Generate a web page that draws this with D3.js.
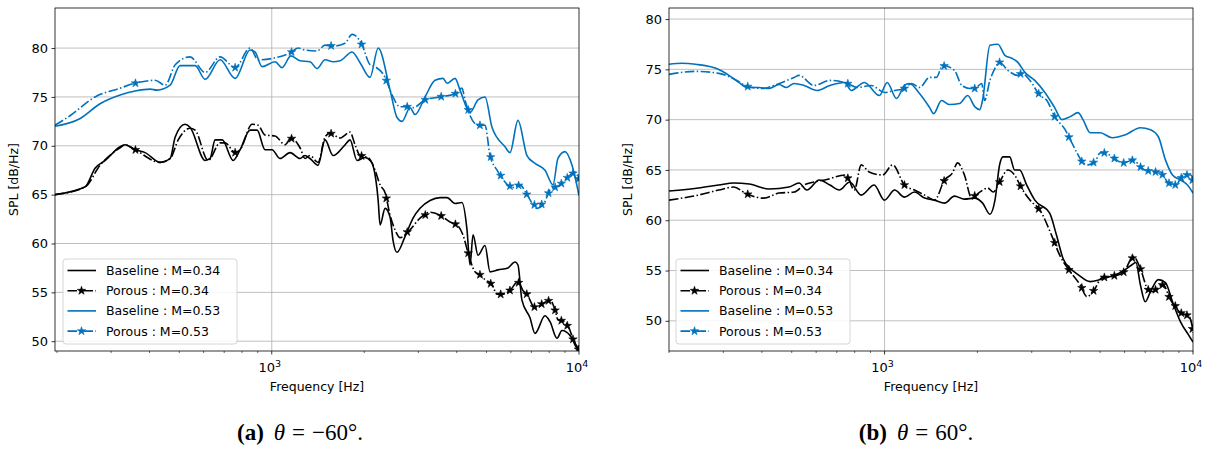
<!DOCTYPE html>
<html>
<head>
<meta charset="utf-8">
<script src="https://cdn.jsdelivr.net/npm/d3@7"></script>
<style>
  html, body { margin: 0; padding: 0; background: #fff; }
  svg { display: block; }
</style>
</head>
<body>
<svg id="chart" width="1210" height="450"></svg>
<script>
// ---------------- DATA ----------------
// Each series: [frequency in Hz, SPL in dB/Hz]
// Panel (a): theta = -60 deg
const aBase034 = [[197,65.0],[247,65.8],[266,67.7],[287,68.5],[321,69.9],[333,70.1],[359,69.6],[387,69.3],[433,68.3],[467,68.7],[485,70.9],[522,72.2],[542,71.9],[607,68.5],[630,68.7],[654,70.6],[690,70.6],[749,68.5],[789,69.6],[850,71.6],[896,71.6],[951,69.6],[1002,69.6],[1064,68.7],[1147,69.3],[1236,68.7],[1283,69.0],[1332,68.7],[1414,68.0],[1491,70.6],[1583,69.0],[1732,70.1],[1798,70.6],[1894,68.5],[2012,68.8],[2089,68.5],[2135,68.0],[2220,64.4],[2252,61.9],[2338,63.6],[2427,62.7],[2482,60.3],[2556,59.1],[2715,60.7],[2883,62.6],[3038,63.6],[3275,64.4],[3530,64.7],[3720,64.7],[3949,64.1],[4160,64.2],[4320,61.4],[4419,57.8],[4520,60.9],[4690,58.8],[4944,59.8],[5133,57.1],[5450,57.3],[5870,57.5],[6190,58.1],[6330,57.8],[6520,54.2],[6927,52.4],[7191,50.8],[7751,52.6],[8047,52.0],[8480,50.3],[8800,51.1],[9348,50.6],[9705,49.8],[10000,49.1]];
const aPor034 = [[197,65.0],[247,65.8],[276,68.0],[321,69.8],[333,70.1],[359,69.6],[433,68.3],[467,68.7],[496,70.6],[542,71.8],[563,71.6],[621,68.5],[679,70.3],[705,70.3],[760,69.3],[789,69.6],[863,72.2],[903,72.1],[951,71.1],[1025,71.0],[1105,70.1],[1155,70.8],[1236,69.8],[1283,68.7],[1332,69.0],[1414,68.3],[1491,70.9],[1548,71.3],[1668,70.8],[1798,71.4],[1867,70.1],[1938,69.0],[2058,68.8],[2169,67.5],[2252,66.0],[2338,65.2],[2427,62.9],[2519,61.4],[2616,60.6],[2819,61.4],[3038,62.6],[3275,63.2],[3530,62.9],[3804,62.2],[4010,61.9],[4190,60.9],[4350,59.1],[4587,57.1],[4762,56.8],[4944,56.3],[5210,55.8],[5410,54.8],[5610,54.8],[5962,55.2],[6330,56.1],[6570,55.2],[6770,54.8],[7191,53.4],[7751,54.0],[8047,54.2],[8354,53.2],[8540,52.2],[9004,52.0],[9348,51.1],[9705,49.6],[10000,49.1]];
const aBase053 = [[197,72.0],[238,72.8],[276,74.3],[321,75.2],[359,75.6],[402,75.8],[423,75.7],[467,76.2],[503,78.2],[563,78.2],[607,76.8],[679,78.8],[760,76.9],[850,79.8],[882,79.6],[930,78.1],[1025,78.6],[1080,78.0],[1155,79.2],[1236,78.7],[1332,78.6],[1404,77.9],[1491,78.8],[1583,78.6],[1668,78.7],[1826,79.6],[1938,78.5],[2089,77.0],[2220,80.0],[2427,75.7],[2556,72.9],[2655,72.5],[2819,73.9],[2927,73.2],[3154,75.0],[3400,76.7],[3610,76.9],[3720,76.4],[3949,76.9],[4100,75.7],[4419,73.4],[4690,74.7],[4944,75.0],[5210,71.9],[5743,69.9],[5962,69.3],[6330,72.6],[6770,69.0],[7191,68.2],[7751,67.5],[8230,66.0],[8540,68.7],[9004,69.4],[9490,68.0],[10000,64.9]];
const aPor053 = [[197,72.1],[221,73.1],[266,75.0],[321,75.9],[359,76.4],[417,76.7],[450,76.2],[485,78.3],[542,79.1],[607,77.5],[679,79.1],[760,78.0],[850,80.0],[903,78.8],[1025,79.0],[1147,79.5],[1218,80.0],[1283,79.8],[1404,79.7],[1491,80.3],[1583,80.2],[1732,80.5],[1826,81.4],[1867,81.3],[1968,80.3],[2089,78.3],[2169,78.1],[2338,77.0],[2463,75.2],[2616,74.0],[2757,74.0],[2883,73.9],[3154,74.7],[3530,75.0],[3949,75.3],[4160,75.9],[4256,74.7],[4419,73.1],[4690,72.1],[4944,72.1],[5133,69.0],[5410,67.5],[5743,66.3],[6050,65.7],[6427,66.0],[6770,65.0],[7300,63.6],[7751,64.3],[8047,65.5],[8672,66.0],[9348,67.0],[9705,67.3],[10000,66.5]];

// Panel (b): theta = 60 deg
const bBase034 = [[200,62.9],[249,63.2],[290,63.5],[324,63.7],[364,63.6],[422,63.1],[490,63.3],[528,63.7],[560,63.0],[614,64.0],[665,63.5],[713,63.0],[771,63.8],[840,62.5],[925,63.5],[999,62.0],[1078,63.0],[1160,62.3],[1250,62.8],[1350,62.2],[1452,62.0],[1565,61.7],[1685,62.4],[1815,62.1],[1960,62.2],[2080,61.7],[2195,60.6],[2280,62.0],[2360,65.5],[2420,66.3],[2545,66.3],[2640,65.0],[2740,65.0],[2890,63.5],[3070,62.0],[3430,60.7],[3610,58.5],[3790,56.2],[4000,55.2],[4240,54.6],[4640,53.9],[5000,54.1],[5390,54.4],[5830,54.8],[6290,55.5],[6530,55.8],[6750,53.6],[7000,51.9],[7280,52.9],[7720,54.1],[8140,53.8],[8580,51.9],[9110,49.9],[9670,48.6],[10000,47.9]];
const bPor034 = [[200,62.0],[249,62.5],[290,63.0],[324,63.3],[358,62.6],[406,62.2],[455,62.7],[509,62.8],[548,63.5],[590,63.8],[639,64.0],[750,64.5],[798,63.0],[840,65.5],[891,64.8],[985,64.5],[1062,65.5],[1160,63.5],[1250,63.0],[1350,62.5],[1452,62.0],[1565,64.0],[1660,64.7],[1725,65.7],[1815,64.5],[1915,62.2],[2035,62.8],[2160,63.2],[2250,62.8],[2360,63.8],[2510,65.0],[2640,64.5],[2780,63.2],[2960,62.0],[3190,61.0],[3480,58.5],[3700,56.5],[3930,55.2],[4300,53.6],[4530,52.4],[4740,52.9],[5080,54.3],[5470,54.4],[5950,54.8],[6410,56.4],[6750,55.2],[7150,53.1],[7400,52.9],[7990,53.6],[8450,52.1],[9110,50.8],[9670,50.5],[9920,49.6],[10000,48.8]];
const bBase053 = [[200,75.5],[220,75.6],[244,75.5],[284,75.1],[313,74.4],[337,73.7],[358,73.2],[391,73.2],[422,73.1],[455,73.5],[480,73.2],[509,73.6],[548,73.4],[604,72.9],[665,73.4],[741,73.7],[780,72.9],[860,73.7],[962,72.4],[1020,73.7],[1093,72.1],[1160,73.4],[1203,73.6],[1298,72.6],[1400,71.2],[1442,70.6],[1530,71.9],[1625,71.5],[1750,71.6],[1860,72.4],[1960,71.3],[2035,71.0],[2080,72.0],[2195,77.4],[2330,77.5],[2455,76.4],[2586,76.1],[2705,75.7],[2850,74.7],[3070,73.9],[3310,72.7],[3560,71.2],[3760,70.0],[4000,70.3],[4240,70.7],[4400,70.0],[4640,68.7],[5000,68.7],[5470,68.2],[6040,68.5],[6750,69.2],[7280,69.0],[7720,68.3],[8140,66.0],[8580,64.5],[9110,64.0],[9600,63.5],[10000,62.7]];
const bPor053 = [[200,74.5],[244,74.8],[290,74.6],[332,73.9],[358,73.3],[406,73.1],[438,73.4],[509,74.2],[528,74.4],[590,73.4],[665,73.9],[757,73.6],[816,73.2],[906,73.4],[999,72.7],[1078,72.9],[1160,73.1],[1222,73.6],[1298,73.2],[1400,74.2],[1474,74.2],[1542,75.4],[1685,74.9],[1780,73.4],[1890,73.1],[1960,73.1],[2065,73.6],[2110,71.9],[2195,73.9],[2280,75.1],[2360,75.7],[2510,74.9],[2705,74.4],[2780,74.6],[2960,73.9],[3190,72.4],[3360,71.9],[3560,70.3],[3850,69.0],[4000,68.0],[4240,66.5],[4370,65.8],[4570,65.5],[4810,65.8],[5000,66.7],[5190,66.7],[5510,66.2],[5950,65.7],[6410,66.0],[6750,65.3],[7280,64.8],[7840,64.8],[8320,63.7],[8790,63.5],[9310,64.5],[9850,64.5],[10000,63.8]];

const yTicks = [50, 55, 60, 65, 70, 75, 80];
const xMajorTicks = [1000, 10000];
const xMinorTicks = [200, 300, 400, 500, 600, 700, 800, 900, 2000, 3000, 4000, 5000, 6000, 7000, 8000, 9000];
const legendLabels = ["Baseline : M=0.34", "Porous : M=0.34", "Baseline : M=0.53", "Porous : M=0.53"];
const captions = [["(a)", "θ", "=", "−60°."], ["(b)", "θ", "=", "60°."]];
// porous-case star markers (every 400 Hz starting at 360 Hz)
const markerStart = 360, markerStep = 400;

// ---------------- DRAW ----------------
const BLACK = "#000000", BLUE = "#0072BD";
const svg = d3.select("#chart");
svg.append("rect").attr("width", 1210).attr("height", 450).attr("fill", "#fff");

const panels = [
  { left: 55, right: 579, top: 8, bottom: 351, xdom: [197, 10000], ydom: [49.0, 84.1],
    series: [aBase034, aPor034, aBase053, aPor053], capX: 300, legX: 63 },
  { left: 669, right: 1193, top: 8, bottom: 351, xdom: [200, 10000], ydom: [47.0, 81.1],
    series: [bBase034, bPor034, bBase053, bPor053], capX: 916, legX: 676 }
];
const styles = [
  { color: BLACK, dash: null, star: false },
  { color: BLACK, dash: "9.6,2.4,1.5,2.4", star: true },
  { color: BLUE, dash: null, star: false },
  { color: BLUE, dash: "9.6,2.4,1.5,2.4", star: true }
];

function interp(data, f) {
  for (let i = 0; i < data.length - 1; i++) {
    const a = data[i], b = data[i + 1];
    if (f >= a[0] && f <= b[0]) {
      const t = (Math.log(f) - Math.log(a[0])) / (Math.log(b[0]) - Math.log(a[0]));
      return a[1] + t * (b[1] - a[1]);
    }
  }
  return null;
}

const star = d3.symbol().type(d3.symbolStar).size(22);
const FONT = "'DejaVu Sans', sans-serif";

panels.forEach((p, pi) => {
  const x = d3.scaleLog().domain(p.xdom).range([p.left, p.right]);
  const y = d3.scaleLinear().domain(p.ydom).range([p.bottom, p.top]);
  const g = svg.append("g");

  const clipId = "clip" + pi;
  svg.append("clipPath").attr("id", clipId).append("rect")
    .attr("x", p.left).attr("y", p.top).attr("width", p.right - p.left).attr("height", p.bottom - p.top);

  // grid
  const grid = g.append("g").attr("stroke", "#b0b0b0").attr("stroke-width", 0.8);
  yTicks.forEach(t => grid.append("line").attr("x1", p.left).attr("x2", p.right)
    .attr("y1", y(t)).attr("y2", y(t)));
  xMajorTicks.filter(t => t < p.xdom[1]).forEach(t => grid.append("line")
    .attr("x1", x(t)).attr("x2", x(t)).attr("y1", p.top).attr("y2", p.bottom));

  // lines
  const line = d3.line().x(d => x(d[0])).y(d => y(d[1])).curve(d3.curveMonotoneX);
  const lg = g.append("g").attr("clip-path", `url(#${clipId})`);
  p.series.forEach((s, si) => {
    const st = styles[si];
    lg.append("path").datum(s).attr("d", line).attr("fill", "none")
      .attr("stroke", st.color).attr("stroke-width", 1.6)
      .attr("stroke-dasharray", st.dash).attr("stroke-linejoin", "round");
    if (st.star) {
      const marks = d3.range(markerStart, p.xdom[1] + 1, markerStep)
        .map(f => [f, interp(s, f)]).filter(d => d[1] !== null);
      lg.selectAll(null).data(marks).enter().append("path")
        .attr("d", star).attr("fill", st.color).attr("stroke", st.color).attr("stroke-width", 0.6)
        .attr("transform", d => `translate(${x(d[0])},${y(d[1])})`);
    }
  });

  // spines
  g.append("rect").attr("x", p.left).attr("y", p.top)
    .attr("width", p.right - p.left).attr("height", p.bottom - p.top)
    .attr("fill", "none").attr("stroke", "#000").attr("stroke-width", 0.8);

  // y axis
  const yAxis = d3.axisLeft(y).tickValues(yTicks).tickSize(3.5).tickPadding(3.5).tickFormat(d3.format("d"));
  const ya = g.append("g").attr("transform", `translate(${p.left},0)`).call(yAxis);
  ya.select(".domain").remove();
  ya.selectAll("line").attr("stroke-width", 0.8);
  ya.selectAll("text").attr("font-family", FONT).attr("font-size", 13).attr("fill", "#000");

  // x axis major ticks
  const xa = g.append("g").attr("transform", `translate(0,${p.bottom})`);
  xMajorTicks.forEach(t => {
    xa.append("line").attr("x1", x(t)).attr("x2", x(t)).attr("y1", 0).attr("y2", 3.5)
      .attr("stroke", "#000").attr("stroke-width", 0.8);
    const txt = xa.append("text").attr("x", x(t) - 2).attr("y", 20.5)
      .attr("text-anchor", "middle").attr("font-family", FONT).attr("font-size", 13).attr("fill", "#000");
    txt.append("tspan").text("10");
    txt.append("tspan").attr("font-size", 9.5).attr("dy", -5).text(String(Math.round(Math.log10(t))));
  });
  xMinorTicks.filter(t => t >= p.xdom[0]).forEach(t => {
    xa.append("line").attr("x1", x(t)).attr("x2", x(t)).attr("y1", 0).attr("y2", 2)
      .attr("stroke", "#000").attr("stroke-width", 0.6);
  });

  // axis labels
  g.append("text").attr("x", (p.left + p.right) / 2).attr("y", 391)
    .attr("text-anchor", "middle").attr("font-family", FONT).attr("font-size", 12.5)
    .text("Frequency [Hz]");
  g.append("text").attr("transform", `translate(${p.left - 37},${(p.top + p.bottom) / 2}) rotate(-90)`)
    .attr("text-anchor", "middle").attr("font-family", FONT).attr("font-size", 12.5)
    .text("SPL [dB/Hz]");

  // legend
  const lx = p.legX, ly = 259;
  const leg = g.append("g");
  leg.append("rect").attr("x", lx).attr("y", ly).attr("width", 174).attr("height", 85)
    .attr("rx", 3).attr("fill", "#fff").attr("fill-opacity", 0.85)
    .attr("stroke", "#cccccc").attr("stroke-width", 0.8);
  legendLabels.forEach((lab, i) => {
    const st = styles[i];
    const cy = ly + 11.5 + i * 20.2;
    leg.append("line").attr("x1", lx + 4.5).attr("x2", lx + 33).attr("y1", cy).attr("y2", cy)
      .attr("stroke", st.color).attr("stroke-width", 1.6).attr("stroke-dasharray", st.dash);
    if (st.star) {
      leg.append("path").attr("d", star).attr("fill", st.color).attr("stroke", st.color)
        .attr("stroke-width", 0.6).attr("transform", `translate(${lx + 18.5},${cy})`);
    }
    leg.append("text").attr("x", lx + 43).attr("y", cy + 4.5)
      .attr("font-family", FONT).attr("font-size", 12.5).attr("fill", "#000").text(lab);
  });

  // caption
  const cap = captions[pi];
  const ct = svg.append("text").attr("x", p.capX).attr("y", 440).attr("text-anchor", "middle")
    .attr("font-family", "'Liberation Serif', 'DejaVu Serif', serif").attr("font-size", 23).attr("fill", "#000");
  ct.append("tspan").attr("font-weight", "bold").text(cap[0]);
  ct.append("tspan").attr("dx", 10).attr("font-style", "italic").text(cap[1]);
  ct.append("tspan").attr("dx", 7).text(cap[2]);
  ct.append("tspan").attr("dx", 7).text(cap[3]);
});
</script>
</body>
</html>
